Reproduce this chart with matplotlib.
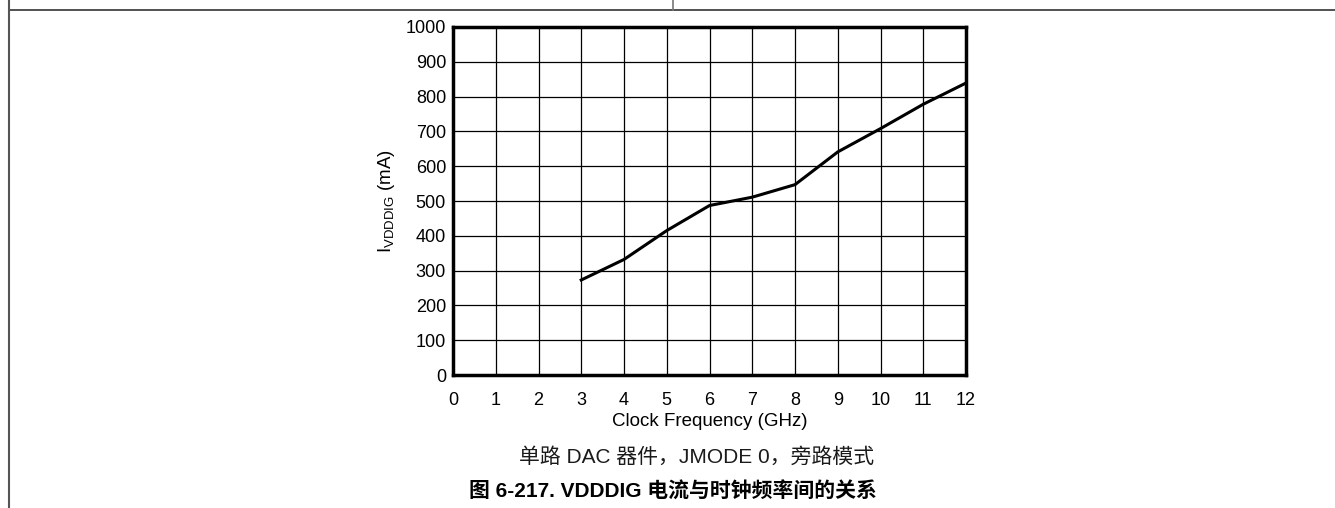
import matplotlib
matplotlib.use("Agg")
import matplotlib.pyplot as plt
from matplotlib.lines import Line2D

plt.rcParams['font.family'] = ['Liberation Sans', 'Noto Sans CJK SC', 'DejaVu Sans']
plt.rcParams['mathtext.fontset'] = 'custom'
plt.rcParams['mathtext.rm'] = 'Liberation Sans'

freq_ghz = [3, 4, 5, 6, 7, 8, 9, 10, 11, 12]
i_vdddig_ma = [273, 332, 415, 487, 511, 547, 641, 708, 778, 839]
x_ticks = list(range(0, 13))
y_ticks = list(range(0, 1001, 100))

W, H = 1335, 508
fig = plt.figure(figsize=(W / 100, H / 100), dpi=100)

ax = fig.add_axes([453 / W, 1 - 375 / H, (966 - 453) / W, (375 - 27) / H])
ax.plot(freq_ghz, i_vdddig_ma, color='black', lw=2.2, solid_joinstyle='round')
ax.set_xlim(0, 12)
ax.set_ylim(0, 1000)
ax.set_xticks(x_ticks)
ax.set_yticks(y_ticks)
ax.grid(True, color='black', lw=0.9)
ax.tick_params(length=0, labelsize=13, pad=5)
ax.tick_params(axis='x', pad=12)
for s in ax.spines.values():
    s.set_linewidth(2.5)
ax.set_xlabel('Clock Frequency (GHz)', fontsize=13.5, labelpad=3)
ax.set_ylabel(r'I$_{\mathrm{VDDDIG}}$ (mA)', fontsize=13.5, labelpad=6)

fig.text(697 / W, 1 - 457 / H, '单路 DAC 器件，JMODE 0，旁路模式', ha='center', va='center',
         fontsize=15, color='#1a1a1a')
fig.text(673 / W, 1 - 492 / H, '图 6-217. VDDDIG 电流与时钟频率间的关系', ha='center', va='center',
         fontsize=15, fontweight='bold')

# page border lines
fig.add_artist(Line2D([9 / W, 1], [1 - 10 / H, 1 - 10 / H], color='#333333', lw=1.2, transform=fig.transFigure))
fig.add_artist(Line2D([9 / W, 9 / W], [0, 1], color='#555555', lw=1.5, transform=fig.transFigure))
fig.add_artist(Line2D([673 / W, 673 / W], [1 - 10 / H, 1], color='#777777', lw=1.2, transform=fig.transFigure))

fig.savefig('out.png', dpi=100)
